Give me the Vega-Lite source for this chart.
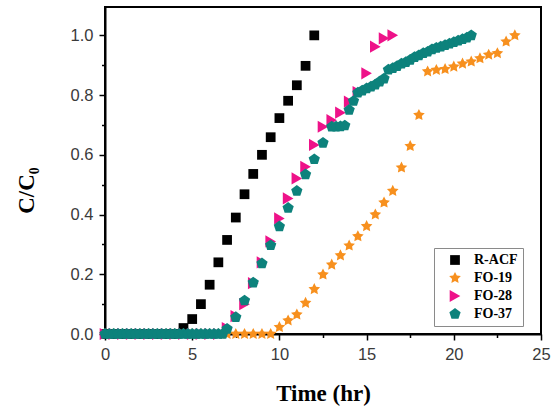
{
  "$schema": "https://vega.github.io/schema/vega-lite/v6.json",
  "width": 436,
  "height": 327,
  "autosize": "none",
  "padding": {"left": 105, "top": 7, "right": 13, "bottom": 74},
  "background": "white",
  "config": {
    "view": {"stroke": "black", "strokeWidth": 2},
    "axis": {
      "domainColor": "black",
      "domainWidth": 2,
      "tickColor": "black",
      "tickWidth": 1.5,
      "grid": false,
      "labelFont": "Liberation Sans",
      "labelFontSize": 16.5,
      "labelColor": "#3a3a3a",
      "titleFont": "Liberation Serif",
      "titleFontWeight": "bold",
      "titleFontSize": 23,
      "titleColor": "black",
      "zindex": 0
    }
  },
  "data": {
    "values": [
      {"series": "R-ACF", "time": 0, "ratio": 0},
      {"series": "R-ACF", "time": 0.5, "ratio": 0},
      {"series": "R-ACF", "time": 1, "ratio": 0},
      {"series": "R-ACF", "time": 1.5, "ratio": 0},
      {"series": "R-ACF", "time": 2, "ratio": 0},
      {"series": "R-ACF", "time": 2.5, "ratio": 0},
      {"series": "R-ACF", "time": 3, "ratio": 0},
      {"series": "R-ACF", "time": 3.5, "ratio": 0},
      {"series": "R-ACF", "time": 4, "ratio": 0},
      {"series": "R-ACF", "time": 4.5, "ratio": 0.02},
      {"series": "R-ACF", "time": 5, "ratio": 0.05},
      {"series": "R-ACF", "time": 5.5, "ratio": 0.1},
      {"series": "R-ACF", "time": 6, "ratio": 0.165},
      {"series": "R-ACF", "time": 6.5, "ratio": 0.24},
      {"series": "R-ACF", "time": 7, "ratio": 0.315},
      {"series": "R-ACF", "time": 7.5, "ratio": 0.39},
      {"series": "R-ACF", "time": 8, "ratio": 0.468},
      {"series": "R-ACF", "time": 8.5, "ratio": 0.536},
      {"series": "R-ACF", "time": 9, "ratio": 0.6},
      {"series": "R-ACF", "time": 9.5, "ratio": 0.659},
      {"series": "R-ACF", "time": 10, "ratio": 0.723},
      {"series": "R-ACF", "time": 10.5, "ratio": 0.781},
      {"series": "R-ACF", "time": 11, "ratio": 0.833},
      {"series": "R-ACF", "time": 11.5, "ratio": 0.898},
      {"series": "R-ACF", "time": 12, "ratio": 1.0},

      {"series": "FO-19", "time": 0, "ratio": 0},
      {"series": "FO-19", "time": 0.5, "ratio": 0},
      {"series": "FO-19", "time": 1, "ratio": 0},
      {"series": "FO-19", "time": 1.5, "ratio": 0},
      {"series": "FO-19", "time": 2, "ratio": 0},
      {"series": "FO-19", "time": 2.5, "ratio": 0},
      {"series": "FO-19", "time": 3, "ratio": 0},
      {"series": "FO-19", "time": 3.5, "ratio": 0},
      {"series": "FO-19", "time": 4, "ratio": 0},
      {"series": "FO-19", "time": 4.5, "ratio": 0},
      {"series": "FO-19", "time": 5, "ratio": 0},
      {"series": "FO-19", "time": 5.5, "ratio": 0},
      {"series": "FO-19", "time": 6, "ratio": 0},
      {"series": "FO-19", "time": 6.5, "ratio": 0},
      {"series": "FO-19", "time": 7, "ratio": 0},
      {"series": "FO-19", "time": 7.5, "ratio": 0},
      {"series": "FO-19", "time": 8, "ratio": 0},
      {"series": "FO-19", "time": 8.5, "ratio": 0},
      {"series": "FO-19", "time": 9, "ratio": 0},
      {"series": "FO-19", "time": 9.5, "ratio": 0},
      {"series": "FO-19", "time": 10, "ratio": 0.023},
      {"series": "FO-19", "time": 10.5, "ratio": 0.045},
      {"series": "FO-19", "time": 11, "ratio": 0.065},
      {"series": "FO-19", "time": 11.5, "ratio": 0.104},
      {"series": "FO-19", "time": 12, "ratio": 0.15},
      {"series": "FO-19", "time": 12.5, "ratio": 0.199},
      {"series": "FO-19", "time": 13, "ratio": 0.232},
      {"series": "FO-19", "time": 13.5, "ratio": 0.263},
      {"series": "FO-19", "time": 14, "ratio": 0.296},
      {"series": "FO-19", "time": 14.5, "ratio": 0.327},
      {"series": "FO-19", "time": 15, "ratio": 0.361},
      {"series": "FO-19", "time": 15.5, "ratio": 0.4},
      {"series": "FO-19", "time": 16, "ratio": 0.44},
      {"series": "FO-19", "time": 16.5, "ratio": 0.479},
      {"series": "FO-19", "time": 17, "ratio": 0.557},
      {"series": "FO-19", "time": 17.5, "ratio": 0.629},
      {"series": "FO-19", "time": 18, "ratio": 0.733},
      {"series": "FO-19", "time": 18.5, "ratio": 0.879},
      {"series": "FO-19", "time": 19, "ratio": 0.884},
      {"series": "FO-19", "time": 19.5, "ratio": 0.887},
      {"series": "FO-19", "time": 20, "ratio": 0.895},
      {"series": "FO-19", "time": 20.5, "ratio": 0.905},
      {"series": "FO-19", "time": 21, "ratio": 0.912},
      {"series": "FO-19", "time": 21.5, "ratio": 0.923},
      {"series": "FO-19", "time": 22, "ratio": 0.935},
      {"series": "FO-19", "time": 22.5, "ratio": 0.94},
      {"series": "FO-19", "time": 23, "ratio": 0.979},
      {"series": "FO-19", "time": 23.5, "ratio": 1.0},

      {"series": "FO-28", "time": 0, "ratio": 0},
      {"series": "FO-28", "time": 0.5, "ratio": 0},
      {"series": "FO-28", "time": 1, "ratio": 0},
      {"series": "FO-28", "time": 1.5, "ratio": 0},
      {"series": "FO-28", "time": 2, "ratio": 0},
      {"series": "FO-28", "time": 2.5, "ratio": 0},
      {"series": "FO-28", "time": 3, "ratio": 0},
      {"series": "FO-28", "time": 3.5, "ratio": 0},
      {"series": "FO-28", "time": 4, "ratio": 0},
      {"series": "FO-28", "time": 4.5, "ratio": 0},
      {"series": "FO-28", "time": 5, "ratio": 0},
      {"series": "FO-28", "time": 5.5, "ratio": 0},
      {"series": "FO-28", "time": 6, "ratio": 0},
      {"series": "FO-28", "time": 6.5, "ratio": 0},
      {"series": "FO-28", "time": 7, "ratio": 0.02},
      {"series": "FO-28", "time": 7.5, "ratio": 0.06},
      {"series": "FO-28", "time": 8, "ratio": 0.1},
      {"series": "FO-28", "time": 8.5, "ratio": 0.17},
      {"series": "FO-28", "time": 9, "ratio": 0.24},
      {"series": "FO-28", "time": 9.5, "ratio": 0.31},
      {"series": "FO-28", "time": 10, "ratio": 0.387},
      {"series": "FO-28", "time": 10.5, "ratio": 0.454},
      {"series": "FO-28", "time": 11, "ratio": 0.521},
      {"series": "FO-28", "time": 11.5, "ratio": 0.56},
      {"series": "FO-28", "time": 12, "ratio": 0.633},
      {"series": "FO-28", "time": 12.5, "ratio": 0.694},
      {"series": "FO-28", "time": 13, "ratio": 0.716},
      {"series": "FO-28", "time": 13.5, "ratio": 0.741},
      {"series": "FO-28", "time": 14, "ratio": 0.778},
      {"series": "FO-28", "time": 14.5, "ratio": 0.81},
      {"series": "FO-28", "time": 15, "ratio": 0.873},
      {"series": "FO-28", "time": 15.5, "ratio": 0.962},
      {"series": "FO-28", "time": 16, "ratio": 0.99},
      {"series": "FO-28", "time": 16.5, "ratio": 1.0},

      {"series": "FO-37", "time": 0, "ratio": 0},
      {"series": "FO-37", "time": 0.25, "ratio": 0},
      {"series": "FO-37", "time": 0.5, "ratio": 0},
      {"series": "FO-37", "time": 0.75, "ratio": 0},
      {"series": "FO-37", "time": 1, "ratio": 0},
      {"series": "FO-37", "time": 1.25, "ratio": 0},
      {"series": "FO-37", "time": 1.5, "ratio": 0},
      {"series": "FO-37", "time": 1.75, "ratio": 0},
      {"series": "FO-37", "time": 2, "ratio": 0},
      {"series": "FO-37", "time": 2.25, "ratio": 0},
      {"series": "FO-37", "time": 2.5, "ratio": 0},
      {"series": "FO-37", "time": 2.75, "ratio": 0},
      {"series": "FO-37", "time": 3, "ratio": 0},
      {"series": "FO-37", "time": 3.25, "ratio": 0},
      {"series": "FO-37", "time": 3.5, "ratio": 0},
      {"series": "FO-37", "time": 3.75, "ratio": 0},
      {"series": "FO-37", "time": 4, "ratio": 0},
      {"series": "FO-37", "time": 4.25, "ratio": 0},
      {"series": "FO-37", "time": 4.5, "ratio": 0},
      {"series": "FO-37", "time": 4.75, "ratio": 0},
      {"series": "FO-37", "time": 5, "ratio": 0},
      {"series": "FO-37", "time": 5.25, "ratio": 0},
      {"series": "FO-37", "time": 5.5, "ratio": 0},
      {"series": "FO-37", "time": 5.75, "ratio": 0},
      {"series": "FO-37", "time": 6, "ratio": 0},
      {"series": "FO-37", "time": 6.25, "ratio": 0},
      {"series": "FO-37", "time": 6.5, "ratio": 0},
      {"series": "FO-37", "time": 6.75, "ratio": 0},
      {"series": "FO-37", "time": 7, "ratio": 0.017},
      {"series": "FO-37", "time": 7.5, "ratio": 0.056},
      {"series": "FO-37", "time": 8, "ratio": 0.112},
      {"series": "FO-37", "time": 8.5, "ratio": 0.172},
      {"series": "FO-37", "time": 9, "ratio": 0.236},
      {"series": "FO-37", "time": 9.5, "ratio": 0.297},
      {"series": "FO-37", "time": 10, "ratio": 0.36},
      {"series": "FO-37", "time": 10.5, "ratio": 0.422},
      {"series": "FO-37", "time": 11, "ratio": 0.479},
      {"series": "FO-37", "time": 11.5, "ratio": 0.534},
      {"series": "FO-37", "time": 12, "ratio": 0.585},
      {"series": "FO-37", "time": 12.5, "ratio": 0.64},
      {"series": "FO-37", "time": 13, "ratio": 0.694},
      {"series": "FO-37", "time": 13.25, "ratio": 0.694},
      {"series": "FO-37", "time": 13.5, "ratio": 0.695},
      {"series": "FO-37", "time": 13.75, "ratio": 0.698},
      {"series": "FO-37", "time": 14, "ratio": 0.75},
      {"series": "FO-37", "time": 14.25, "ratio": 0.78},
      {"series": "FO-37", "time": 14.5, "ratio": 0.808},
      {"series": "FO-37", "time": 14.75, "ratio": 0.815},
      {"series": "FO-37", "time": 15, "ratio": 0.822},
      {"series": "FO-37", "time": 15.25, "ratio": 0.828},
      {"series": "FO-37", "time": 15.5, "ratio": 0.835},
      {"series": "FO-37", "time": 15.75, "ratio": 0.845},
      {"series": "FO-37", "time": 16, "ratio": 0.855},
      {"series": "FO-37", "time": 16.25, "ratio": 0.885},
      {"series": "FO-37", "time": 16.5, "ratio": 0.89},
      {"series": "FO-37", "time": 16.75, "ratio": 0.897},
      {"series": "FO-37", "time": 17, "ratio": 0.905},
      {"series": "FO-37", "time": 17.25, "ratio": 0.91},
      {"series": "FO-37", "time": 17.5, "ratio": 0.918},
      {"series": "FO-37", "time": 17.75, "ratio": 0.927},
      {"series": "FO-37", "time": 18, "ratio": 0.933},
      {"series": "FO-37", "time": 18.25, "ratio": 0.94},
      {"series": "FO-37", "time": 18.5, "ratio": 0.945},
      {"series": "FO-37", "time": 18.75, "ratio": 0.953},
      {"series": "FO-37", "time": 19, "ratio": 0.958},
      {"series": "FO-37", "time": 19.25, "ratio": 0.962},
      {"series": "FO-37", "time": 19.5, "ratio": 0.967},
      {"series": "FO-37", "time": 19.75, "ratio": 0.972},
      {"series": "FO-37", "time": 20, "ratio": 0.977},
      {"series": "FO-37", "time": 20.25, "ratio": 0.982},
      {"series": "FO-37", "time": 20.5, "ratio": 0.987},
      {"series": "FO-37", "time": 20.75, "ratio": 0.992},
      {"series": "FO-37", "time": 21, "ratio": 1.0}
    ]
  },
  "mark": {"type": "point", "filled": true, "opacity": 1, "strokeWidth": 0},
  "encoding": {
    "x": {
      "field": "time",
      "type": "quantitative",
      "scale": {"domain": [0, 25], "nice": false, "zero": false},
      "axis": {
        "title": "Time (hr)",
        "values": [0, 2.5, 5, 7.5, 10, 12.5, 15, 17.5, 20, 22.5, 25],
        "labelExpr": "datum.value % 5 == 0 ? datum.label : ''",
        "tickSize": {"condition": {"test": "datum.value % 5 != 0", "value": 3.5}, "value": 6},
        "labelPadding": 6,
        "labelFlush": false,
        "titleX": 218,
        "titleY": 66,
        "titleBaseline": "alphabetic",
        "titleAnchor": "middle"
      }
    },
    "y": {
      "field": "ratio",
      "type": "quantitative",
      "scale": {"domain": [0, 1.095], "nice": false, "zero": false},
      "axis": {
        "title": "C/C₀",
        "values": [0, 0.1, 0.2, 0.3, 0.4, 0.5, 0.6, 0.7, 0.8, 0.9, 1.0],
        "labelExpr": "round(datum.value * 10) % 2 == 0 ? format(datum.value, '.1f') : ''",
        "tickSize": {"condition": {"test": "round(datum.value * 10) % 2 == 1", "value": 3.5}, "value": 6},
        "labelPadding": 6,
        "labelFlush": false,
        "titleAngle": 270,
        "titleX": -72,
        "titleY": 183,
        "titleBaseline": "alphabetic",
        "titleAnchor": "middle"
      }
    },
    "color": {
      "field": "series",
      "type": "nominal",
      "scale": {
        "domain": ["R-ACF", "FO-19", "FO-28", "FO-37"],
        "range": ["#000000", "#F7901E", "#EE1289", "#0D827C"]
      },
      "legend": {
        "title": null,
        "orient": "none",
        "legendX": 329,
        "legendY": 241,
        "padding": 5,
        "symbolOffset": 9,
        "labelOffset": 12,
        "rowPadding": 4,
        "labelFont": "Liberation Serif",
        "labelFontWeight": "bold",
        "labelFontSize": 14,
        "labelColor": "black",
        "strokeColor": "#8a8a8a",
        "fillColor": "white",
        "symbolStrokeWidth": 0
      }
    },
    "shape": {
      "field": "series",
      "type": "nominal",
      "scale": {
        "domain": ["R-ACF", "FO-19", "FO-28", "FO-37"],
        "range": [
          "square",
          "M0,-1L0.294,-0.405L0.951,-0.309L0.476,0.155L0.588,0.809L0,0.5L-0.588,0.809L-0.476,0.155L-0.951,-0.309L-0.294,-0.405Z",
          "triangle-right",
          "M0,-1L0.951,-0.309L0.588,0.809L-0.588,0.809L-0.951,-0.309Z"
        ]
      }
    },
    "size": {
      "field": "series",
      "type": "nominal",
      "scale": {
        "type": "ordinal",
        "domain": ["R-ACF", "FO-19", "FO-28", "FO-37"],
        "range": [95, 150, 150, 140]
      }
    }
  }
}
